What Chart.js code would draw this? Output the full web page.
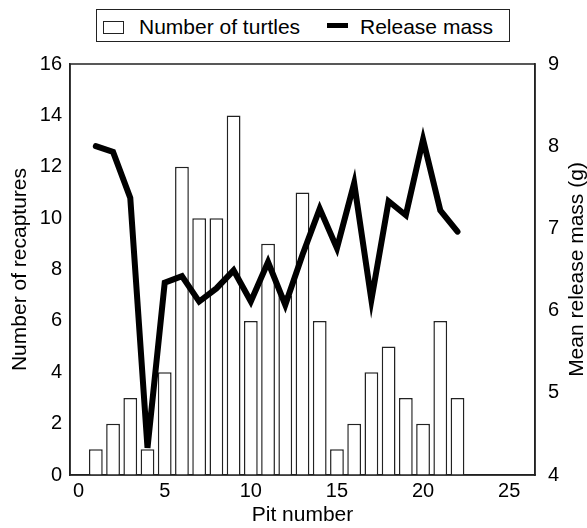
<!DOCTYPE html>
<html>
<head>
<meta charset="utf-8">
<script src="https://cdn.jsdelivr.net/npm/chart.js@4.4.1/dist/chart.umd.min.js"></script>
<style>
html,body{margin:0;padding:0;background:#fff;}
#wrap{position:relative;width:587px;height:528px;font-family:'Liberation Sans',Arial,Helvetica,sans-serif;}
#c{position:absolute;left:0;top:0;}
#legend{position:absolute;left:96px;top:9px;width:414px;height:33px;box-sizing:border-box;border:1.5px solid #222;background:#fff;}
.li{position:absolute;font-size:21px;line-height:21px;color:#000;white-space:nowrap;}
.box{position:absolute;box-sizing:border-box;border:1.5px solid #222;background:#fff;}
.ln{position:absolute;background:#000;}
</style>
</head>
<body>
<div id="wrap">
<canvas id="c" width="587" height="528"></canvas>
<div id="legend">
  <div class="box" style="left:6px;top:11px;width:21px;height:13px;"></div>
  <div class="li" style="left:42px;top:6px;">Number of turtles</div>
  <div class="ln" style="left:230px;top:13px;width:21px;height:5px;"></div>
  <div class="li" style="left:263px;top:6px;">Release mass</div>
</div>
</div>
<script>
const pits = [1,2,3,4,5,6,7,8,9,10,11,12,13,14,15,16,17,18,19,20,21,22];
const turtles = [1,2,3,1,4,12,10,10,14,6,9,7,11,6,1,2,4,5,3,2,6,3];
const releaseMass = [8.00,7.93,7.37,4.33,6.34,6.42,6.11,6.27,6.49,6.11,6.59,6.07,6.68,7.24,6.76,7.55,6.13,7.33,7.16,8.08,7.22,6.96];
const xTicks = [0,5,10,15,20,25];
const leftTicks = [0,2,4,6,8,10,12,14,16];
const rightTicks = [4,5,6,7,8,9];
const rightTitle = 'Mean release mass (g)';

const FONT = "'Liberation Sans', Arial, Helvetica, sans-serif";
const AXIS = '#222';

const framePlugin = {
  id: 'frame',
  afterDraw(chart) {
    const a = chart.chartArea, ctx = chart.ctx;
    ctx.save();
    ctx.strokeStyle = AXIS;
    ctx.lineWidth = 1.5;
    ctx.strokeRect(a.left, a.top, a.right - a.left, a.bottom - a.top);
    // right axis title, reading bottom-to-top like the reference
    const s = chart.scales.y2;
    ctx.translate(s.right - 10, (a.top + a.bottom) / 2);
    ctx.rotate(-Math.PI / 2);
    ctx.font = '21px ' + FONT;
    ctx.fillStyle = '#000';
    ctx.textAlign = 'center';
    ctx.textBaseline = 'middle';
    ctx.fillText(rightTitle, 0, 0);
    ctx.restore();
  }
};

new Chart(document.getElementById('c'), {
  type: 'bar',
  data: {
    datasets: [
      {
        type: 'bar',
        label: 'Number of turtles',
        data: pits.map((p, i) => ({x: p, y: turtles[i]})),
        backgroundColor: '#ffffff',
        borderColor: AXIS,
        borderWidth: 1.5,
        barPercentage: 0.8,
        categoryPercentage: 1,
        yAxisID: 'y',
        order: 2
      },
      {
        type: 'line',
        label: 'Release mass',
        data: pits.map((p, i) => ({x: p, y: releaseMass[i]})),
        borderColor: '#000',
        borderWidth: 6,
        pointRadius: 0,
        tension: 0,
        fill: false,
        borderCapStyle: 'round',
        borderJoinStyle: 'miter',
        yAxisID: 'y2',
        order: 1
      }
    ]
  },
  options: {
    responsive: false,
    animation: false,
    devicePixelRatio: 1,
    layout: {padding: {top: 64, left: 0, right: 0, bottom: 0}},
    plugins: {legend: {display: false}, tooltip: {enabled: false}},
    scales: {
      x: {
        type: 'linear',
        min: -0.5, max: 26.5,
        offset: false,
        grid: {display: false, offset: false, drawTicks: false},
        border: {display: true, color: AXIS, width: 1.5},
        afterBuildTicks: s => { s.ticks = xTicks.map(v => ({value: v})); },
        ticks: {font: {family: FONT, size: 20}, color: '#000', padding: 4, maxRotation: 0, autoSkip: false},
        title: {display: true, text: 'Pit number', font: {family: FONT, size: 21}, color: '#000', padding: {top: 0, bottom: 0}},
        afterFit: s => { s.height = 53; }
      },
      y: {
        position: 'left',
        min: 0, max: 16,
        grid: {display: false, drawTicks: false},
        border: {display: true, color: AXIS, width: 1.5},
        afterBuildTicks: s => { s.ticks = leftTicks.map(v => ({value: v})); },
        ticks: {font: {family: FONT, size: 20}, color: '#000', padding: 8},
        title: {display: true, text: 'Number of recaptures', font: {family: FONT, size: 21}, color: '#000', padding: {top: 8, bottom: 0}},
        afterFit: s => { s.width = 70; }
      },
      y2: {
        position: 'right',
        min: 4, max: 9,
        grid: {display: false, drawTicks: false},
        border: {display: true, color: AXIS, width: 1.5},
        afterBuildTicks: s => { s.ticks = rightTicks.map(v => ({value: v})); },
        ticks: {font: {family: FONT, size: 20}, color: '#000', padding: 13},
        title: {display: false},
        afterFit: s => { s.width = 52; }
      }
    }
  },
  plugins: [framePlugin]
});
</script>
</body>
</html>
